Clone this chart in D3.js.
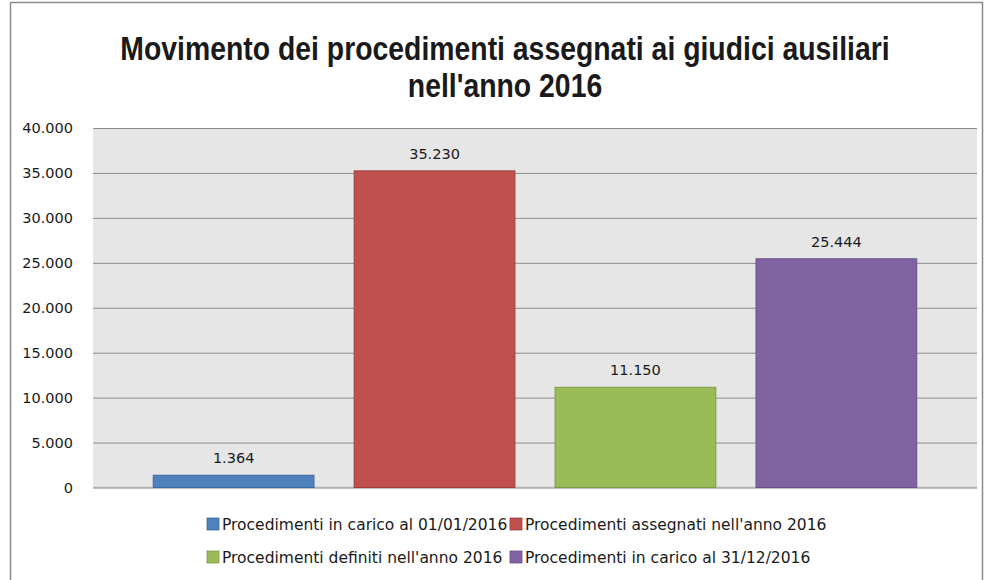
<!DOCTYPE html>
<html>
<head>
<meta charset="utf-8">
<script src="https://cdn.jsdelivr.net/npm/d3@7"></script>
<style>
  body { margin: 0; background: #fff; }
  svg text { fill: #1a1a1a; }
</style>
</head>
<body>
<script>
const WIDTH = 984;
const HEIGHT = 580;

const PLOT = {LEFT: 93, RIGHT: 977, TOP: 128, BOTTOM: 487.5};

// data
var series = [
    "Procedimenti in carico al 01/01/2016",
    "Procedimenti assegnati nell'anno 2016",
    "Procedimenti definiti nell'anno 2016",
    "Procedimenti in carico al 31/12/2016"
];
var values = [1364, 35230, 11150, 25444];
var colors = ["#4F81BD", "#C0504D", "#9BBB59", "#8064A2"];
var strokes = ["#3d6a9e", "#9e3d3a", "#7d9a46", "#66508a"];
var yTicks = [0, 5000, 10000, 15000, 20000, 25000, 30000, 35000, 40000];
var titleLines = ["Movimento dei procedimenti assegnati ai giudici ausiliari", "nell'anno 2016"];

// italian number format: dot for thousands
var itLocale = d3.formatLocale({decimal: ",", thousands: ".", grouping: [3], currency: ["€", ""]});
var fmt = itLocale.format(",d");

var svg = d3.select("body").append("svg")
    .attr("width", WIDTH)
    .attr("height", HEIGHT)
    .style("font-family", "DejaVu Sans, sans-serif");

// outer frame
svg.append("rect")
    .attr("x", 10.5).attr("y", 2.5)
    .attr("width", WIDTH - 12).attr("height", HEIGHT)
    .attr("fill", "none")
    .attr("stroke", "#8a8a8a")
    .attr("stroke-width", 1.5);

var x = d3.scaleBand()
    .domain(series)
    .range([PLOT.LEFT, PLOT.RIGHT])
    .paddingInner(0.2)
    .paddingOuter(0.3);

var y = d3.scaleLinear()
    .domain([0, 40000])
    .range([PLOT.BOTTOM, PLOT.TOP]);

// plot background
svg.append("rect")
    .attr("x", PLOT.LEFT).attr("y", PLOT.TOP)
    .attr("width", PLOT.RIGHT - PLOT.LEFT)
    .attr("height", PLOT.BOTTOM - PLOT.TOP)
    .attr("fill", "#e6e6e6");

// y axis with gridlines
var yAxis = d3.axisLeft(y)
    .tickValues(yTicks)
    .tickSize(-(PLOT.RIGHT - PLOT.LEFT))
    .tickPadding(20)
    .tickFormat(fmt);

var gy = svg.append("g")
    .attr("transform", "translate(" + PLOT.LEFT + ",0)")
    .call(yAxis);

gy.select(".domain").remove();
gy.selectAll(".tick line")
    .attr("stroke", "#8c8c8c")
    .attr("stroke-width", 1);
gy.selectAll(".tick text")
    .attr("font-size", 14.5)
    .attr("font-family", "DejaVu Sans")
    .attr("fill", "#1a1a1a");

// zero line a bit lighter
svg.append("line")
    .attr("x1", PLOT.LEFT).attr("x2", PLOT.RIGHT)
    .attr("y1", y(0)).attr("y2", y(0))
    .attr("stroke", "#b3b3b3")
    .attr("stroke-width", 1.5);

// bars
svg.selectAll(".bar")
    .data(values)
    .enter().append("rect")
    .attr("class", "bar")
    .attr("x", (d, i) => x(series[i]))
    .attr("y", d => y(d))
    .attr("width", x.bandwidth())
    .attr("height", d => y(0) - y(d))
    .attr("fill", (d, i) => colors[i])
    .attr("stroke", (d, i) => strokes[i])
    .attr("stroke-width", 1);

// data labels
svg.selectAll(".label")
    .data(values)
    .enter().append("text")
    .attr("class", "label")
    .attr("x", (d, i) => x(series[i]) + x.bandwidth() / 2)
    .attr("y", d => y(d) - 12)
    .attr("text-anchor", "middle")
    .attr("font-size", 14.5)
    .text(d => fmt(d));

// title: squeezed horizontally to look like a condensed bold face
var title = svg.append("g")
    .attr("transform", "translate(505,0) scale(0.86,1)");

title.selectAll("text")
    .data(titleLines)
    .enter().append("text")
    .attr("x", 0)
    .attr("y", (d, i) => 60 + i * 37)
    .attr("text-anchor", "middle")
    .style("font-family", "'Liberation Sans', Arial, sans-serif")
    .attr("font-weight", "bold")
    .attr("font-size", 33)
    .text(d => d);

// legend, two columns
var legendX = [207, 510];
var legendY = [524, 557];

var legend = svg.selectAll(".legend")
    .data(series)
    .enter().append("g")
    .attr("class", "legend")
    .attr("transform", (d, i) => "translate(" + legendX[i % 2] + "," + legendY[Math.floor(i / 2)] + ")");

legend.append("rect")
    .attr("x", 0).attr("y", -6)
    .attr("width", 12).attr("height", 12)
    .attr("fill", (d, i) => colors[i])
    .attr("stroke", (d, i) => strokes[i])
    .attr("stroke-width", 0.8);

legend.append("text")
    .attr("x", 15).attr("y", 5.5)
    .attr("font-size", 15.5)
    .text(d => d);
</script>
</body>
</html>
